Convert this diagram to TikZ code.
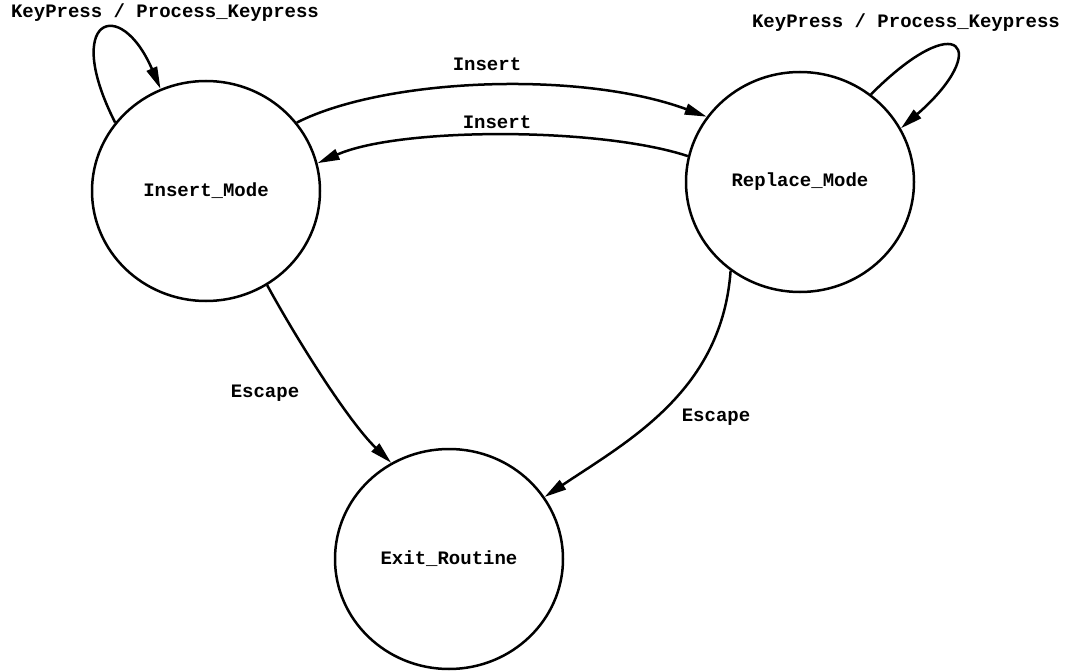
\documentclass[tikz,border=0pt]{standalone}
\usepackage{fontspec}
\setmonofont{Liberation Mono}
\usetikzlibrary{shapes.geometric,arrows.meta}
\begin{document}
\begin{tikzpicture}[x=1pt,y=-1pt,
  state/.style={draw,ellipse,line width=2.5pt,minimum width=228pt,minimum height=220pt,inner sep=0pt,
    font=\ttfamily\bfseries\fontsize{19}{22}\selectfont},
  lbl/.style={font=\ttfamily\bfseries\fontsize{19}{22}\selectfont,inner sep=0pt},
  edge/.style={line width=2.5pt,-{Triangle[length=22pt,width=11pt]}}]
\useasboundingbox (0,0) rectangle (1066,671);
\node[state] (ins) at (206,191) {Insert\_Mode};
\node[state] (rep) at (800,182) {Replace\_Mode};
\node[state] (ex) at (449,559) {Exit\_Routine};

\draw[edge] (ins.37.7) .. controls (385,78) and (580,70) .. (rep.145);
\draw[edge] (rep.167.5) .. controls (600,127) and (400,127) .. (ins.14.6);
\draw[edge] (ins.143) .. controls (62,18) and (120,-5) .. (ins.114);
\draw[edge] (rep.51) .. controls (960,5) and (992,49) .. (rep.28);
\draw[edge] (ins.-57) .. controls (296,338) and (348,421) .. (ex.121.6);
\draw[edge] (rep.-128) .. controls (722,390) and (630,440) .. (ex.33);

\node[lbl] (l1) at (165,13) {KeyPress / Process\_Keypress};
\node[lbl] (l2) at (906,23) {KeyPress / Process\_Keypress};
\node[lbl] (l3) at (487,64) {Insert};
\node[lbl] (l4) at (497,122) {Insert};
\node[lbl] (l5) at (265,393) {Escape};
\node[lbl] (l6) at (716,417) {Escape};
\end{tikzpicture}
\end{document}
